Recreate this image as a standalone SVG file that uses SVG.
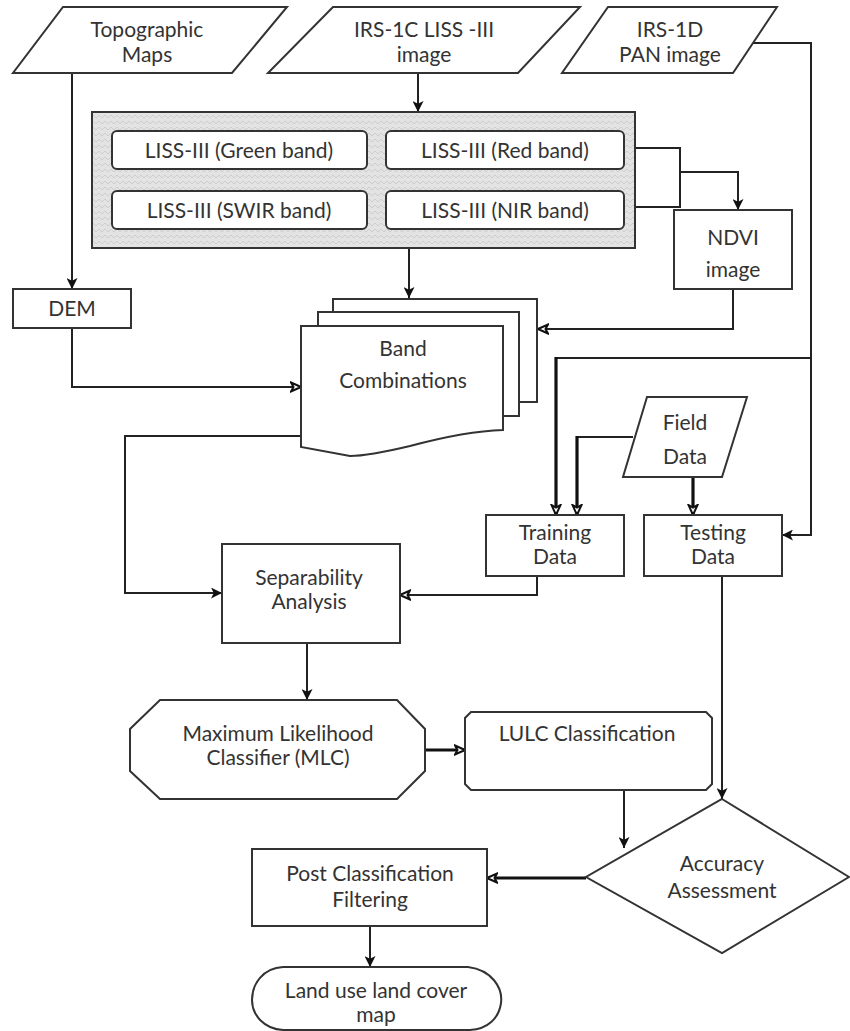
<svg xmlns="http://www.w3.org/2000/svg" width="850" height="1031" viewBox="0 0 850 1031">
<defs>
<style>
.n{fill:#fff;stroke:#333;stroke-width:2}
.t{font-family:Lato,"Open Sans","Liberation Sans",sans-serif;font-size:21px;fill:#333;text-anchor:middle}
.c{fill:none;stroke:#222;stroke-width:2}
.k{fill:none;stroke:#111;stroke-width:3.2}
</style>
<pattern id="hatch" width="6" height="6" patternUnits="userSpaceOnUse">
<rect width="6" height="6" fill="#e3e3e3"/>
<path d="M0,4 L3,1 L6,4" fill="none" stroke="#cdcdcd" stroke-width="1"/>
</pattern>
<marker id="af" viewBox="0 0 10 10" markerWidth="11" markerHeight="11" refX="10" refY="5" orient="auto" markerUnits="userSpaceOnUse">
<path d="M0,0 L10,5 L0,10 L2.5,5 Z" fill="#111"/>
</marker>
<marker id="ao" viewBox="0 0 12 12" markerWidth="12" markerHeight="12" refX="11" refY="6" orient="auto" markerUnits="userSpaceOnUse">
<path d="M1,1.5 L11,6 L1,10.5 L3.5,6 Z" fill="#fff" stroke="#111" stroke-width="2"/>
</marker>
</defs>

<g id="connectors">
<path class="c" d="M72,73 V289" marker-end="url(#af)"/>
<path class="c" d="M418,73 V112" marker-end="url(#af)"/>
<path class="c" d="M753,43 H811 V535 H782" marker-end="url(#af)"/>
<path class="c" d="M811,358 H556"/>
<path class="k" d="M556,357 V515" marker-end="url(#ao)"/>
<path class="c" d="M633,437 H577"/>
<path class="k" d="M577,436 V515" marker-end="url(#ao)"/>
<path class="k" d="M693,477 V515" marker-end="url(#ao)"/>
<path class="c" d="M624,148 H680 V207 H624"/>
<path class="c" d="M680,172 H738 V210" marker-end="url(#af)"/>
<path class="c" d="M409,248 V298" marker-end="url(#af)"/>
<path class="c" d="M733,289 V329 H538" marker-end="url(#ao)"/>
<path class="c" d="M72,328 V387 H301" marker-end="url(#ao)"/>
<path class="c" d="M301,436 H125 V593 H222" marker-end="url(#af)"/>
<path class="c" d="M537,576 V595 H400" marker-end="url(#ao)"/>
<path class="c" d="M307,643 V700" marker-end="url(#af)"/>
<path class="k" d="M425,750 H465" marker-end="url(#ao)"/>
<path class="c" d="M624,790 V848" marker-end="url(#af)"/>
<path class="c" d="M722,576 V799" marker-end="url(#af)"/>
<path class="k" d="M586,878 H487" marker-end="url(#ao)"/>
<path class="c" d="M370,926 V967" marker-end="url(#af)"/>
</g>

<g id="topographic-maps">
<path class="n" d="M63,7 H287 L232,73 H13 Z"/>
<text class="t" x="147" y="37">Topographic</text>
<text class="t" x="147" y="62">Maps</text>
</g>

<g id="irs-1c">
<path class="n" d="M333,7 H580 L518,73 H268 Z"/>
<text class="t" x="424" y="37">IRS-1C LISS -III</text>
<text class="t" x="424" y="62">image</text>
</g>

<g id="irs-1d">
<path class="n" d="M608,7 H777 L733,73 H562 Z"/>
<text class="t" x="670" y="37">IRS-1D</text>
<text class="t" x="670" y="62">PAN image</text>
</g>

<g id="liss-bands">
<rect x="92" y="112" width="543" height="136" fill="url(#hatch)" stroke="#333" stroke-width="2"/>
</g>
<g id="green-band">
<rect class="n" x="112" y="131" width="255" height="38" rx="5"/>
<text class="t" x="239" y="158">LISS-III (Green band)</text>
</g>
<g id="red-band">
<rect class="n" x="386" y="131" width="238" height="38" rx="5"/>
<text class="t" x="505" y="158">LISS-III (Red band)</text>
</g>
<g id="swir-band">
<rect class="n" x="112" y="191" width="255" height="38" rx="5"/>
<text class="t" x="239" y="218">LISS-III (SWIR band)</text>
</g>
<g id="nir-band">
<rect class="n" x="386" y="191" width="238" height="38" rx="5"/>
<text class="t" x="505" y="218">LISS-III (NIR band)</text>
</g>

<g id="ndvi">
<rect class="n" x="674" y="210" width="118" height="79"/>
<text class="t" x="733" y="245">NDVI</text>
<text class="t" x="733" y="277">image</text>
</g>

<g id="dem">
<rect class="n" x="13" y="289" width="118" height="39"/>
<text class="t" x="72" y="316">DEM</text>
</g>

<g id="band-combinations">
<rect class="n" x="333" y="299" width="204" height="103"/>
<rect class="n" x="318" y="312" width="201" height="104"/>
<path class="n" d="M301,326 H503 V430 C470,431 440,438 410,446 C385,452 365,456 350,456 L301,447 Z"/>
<text class="t" x="403" y="356">Band</text>
<text class="t" x="403" y="388">Combinations</text>
</g>

<g id="field-data">
<path class="n" d="M647,397 H747 L722,477 H623 Z"/>
<text class="t" x="685" y="430">Field</text>
<text class="t" x="685" y="464">Data</text>
</g>

<g id="training-data">
<rect class="n" x="486" y="515" width="138" height="61"/>
<text class="t" x="555" y="540">Training</text>
<text class="t" x="555" y="564">Data</text>
</g>

<g id="testing-data">
<rect class="n" x="644" y="515" width="138" height="61"/>
<text class="t" x="713" y="540">Testing</text>
<text class="t" x="713" y="564">Data</text>
</g>

<g id="separability">
<rect class="n" x="222" y="544" width="178" height="99"/>
<text class="t" x="309" y="585">Separability</text>
<text class="t" x="309" y="609">Analysis</text>
</g>

<g id="mlc">
<path class="n" d="M160,700 H397 L425,729 V771 L397,799 H160 L130,771 V729 Z"/>
<text class="t" x="278" y="741">Maximum Likelihood</text>
<text class="t" x="278" y="765">Classifier (MLC)</text>
</g>

<g id="lulc">
<path class="n" d="M471,712 H706 L712,718 V784 L706,790 H471 L465,784 V718 Z"/>
<text class="t" x="587" y="741">LULC  Classification</text>
</g>

<g id="accuracy">
<path class="n" d="M722,799 L849,877 L722,953 L586,877 Z"/>
<text class="t" x="722" y="871">Accuracy</text>
<text class="t" x="722" y="898">Assessment</text>
</g>

<g id="post-classification">
<rect class="n" x="252" y="849" width="235" height="77"/>
<text class="t" x="370" y="881">Post Classification</text>
<text class="t" x="370" y="907">Filtering</text>
</g>

<g id="land-use-map">
<path class="n" d="M283,967 H468 C492,970 503,988 501,1003 C499,1018 488,1029 470,1030 H283 C264,1029 252,1015 252,1000 C252,984 263,968 283,967 Z"/>
<text class="t" x="376" y="998">Land use land cover</text>
<text class="t" x="376" y="1022">map</text>
</g>
</svg>
